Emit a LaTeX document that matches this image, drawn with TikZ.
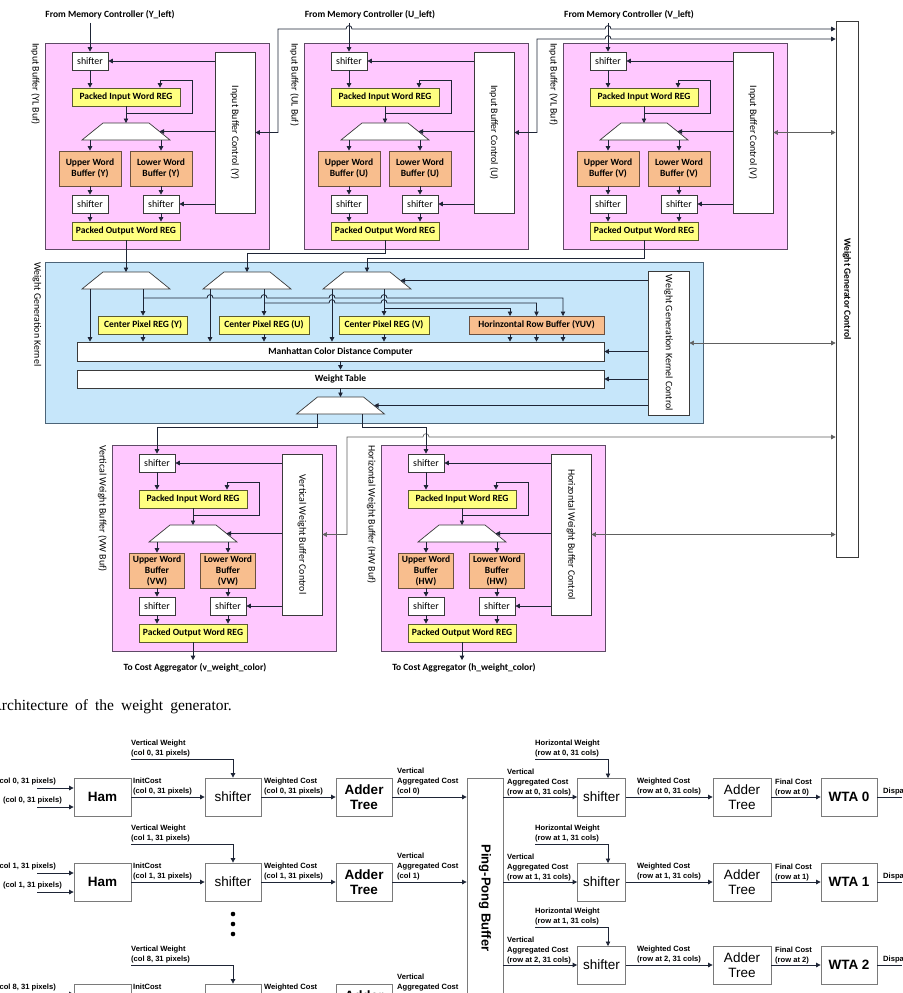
\documentclass[tikz,border=0pt]{standalone}
\usepackage{fontspec}
\setmainfont{Carlito}
\newfontfamily\arialf{Liberation Sans}
\newfontfamily\capserif{Liberation Serif}
\usetikzlibrary{arrows.meta}
\definecolor{pinkf}{HTML}{FFC8FF}
\definecolor{pinkd}{HTML}{5E4A66}
\definecolor{bluef}{HTML}{C6E6FA}
\definecolor{blued}{HTML}{4C6478}
\definecolor{yelf}{HTML}{FFFF80}
\definecolor{yeld}{HTML}{5A5A30}
\definecolor{orf}{HTML}{F8BE8E}
\definecolor{ord}{HTML}{6A5040}
\definecolor{boxd}{HTML}{3A3A3A}
\definecolor{linec}{HTML}{1E2536}
\definecolor{grayl}{HTML}{606060}
\definecolor{bgray}{HTML}{7A7A7A}
\newcommand{\lf}{\fontsize{9.5}{11}\selectfont}
\newcommand{\rf}{\fontsize{9.9}{11}\selectfont}
\newcommand{\smb}{\arialf\bfseries\fontsize{7.6}{10}\selectfont}
\newcommand{\bigbf}{\arialf\bfseries\fontsize{13.5}{15}\selectfont}
\newcommand{\bigrm}{\arialf\fontsize{13.5}{15}\selectfont}
\tikzset{
 ln/.style={draw=linec, line width=0.8pt},
 arr/.style={ln, -{Triangle[length=4.5pt,width=4.5pt]}},
 darr/.style={ln, {Triangle[length=4.5pt,width=4.5pt]}-{Triangle[length=4.5pt,width=4.5pt]}},
 garr/.style={draw=grayl, line width=0.6pt, {Triangle[length=4.5pt,width=4.5pt]}-{Triangle[length=4.5pt,width=4.5pt]}},
 bx/.style={draw=boxd, line width=0.7pt, inner sep=0pt, align=center, font=\lf},
 pinkbox/.style={bx, draw=pinkd, fill=pinkf, line width=0.9pt},
 shf/.style={bx, fill=white, minimum width=36, minimum height=18, font=\rf},
 ylw/.style={bx, draw=yeld, fill=yelf, font=\lf\bfseries, minimum width=108, minimum height=18},
 org/.style={bx, draw=ord, fill=orf, font=\lf\bfseries, minimum height=35},
 ctl/.style={bx, fill=white, minimum width=40},
 muxsh/.style={draw=boxd, line width=0.7pt, fill=white},
 sidel/.style={rotate=-90, font=\rf, inner sep=0pt},
 bb/.style={draw=bgray, line width=0.8pt, inner sep=0pt, minimum height=38, align=center, fill=white},
 slb/.style={font=\smb, inner sep=0pt, align=left},
}
\newcommand{\muxs}[3]{%
 \draw[muxsh] ({#2-23},#3) -- ({#2+23},#3) -- ({#2+44},{#3+17}) -- ({#2-44},{#3+17}) -- cycle;
 \coordinate (#1t) at (#2,#3);
 \coordinate (#1r) at ({#2+33.5},{#3+8.5});
 \coordinate (#1b) at (#2,{#3+17});
}
\newcommand{\hp}[2]{-- ({#1-3},#2) .. controls ({#1-3},{#2-4.5}) and ({#1+3},{#2-4.5}) .. ({#1+3},#2) }
\newcommand{\bufblk}[8]{%
\begin{scope}[shift={(#2,#3)}]
 \node[pinkbox, minimum width=224, minimum height=206] (#1pk) at (112,103) {};
 \node[sidel, anchor=west] (#1lab) at (-9.5,0) {#7};
 \node[shf] (#1si) at (45,18) {shifter};
 \node[ylw] (#1ri) at (81,54) {Packed Input Word REG};
 \muxs{#1m}{81}{80}
 \node[org, minimum width=#8] (#1ub) at (45,125.5) {#4};
 \node[org, minimum width=#8] (#1lb) at (116,125.5) {#5};
 \node[shf] (#1sl) at (45,161) {shifter};
 \node[shf] (#1sr) at (116,161) {shifter};
 \node[ylw] (#1ro) at (81,188) {Packed Output Word REG};
 \node[ctl, minimum height=161] (#1ct) at (190,89.5) {};
 \node[rotate=-90, font=\rf] at (#1ct) {#6};
 \coordinate (#1lp) at (81,70);
 \coordinate (#1lq) at (147,37);
 \coordinate (#1lr) at (115,37);
 \draw[arr] (#1si.south) -- (#1si.south |- #1ri.north);
 \draw[arr] (#1ri.south) -- (#1mt);
 \draw[arr] (#1lp) -| (#1lq) -- (#1lr) -- (#1lr |- #1ri.north);
 \draw[arr] (#1ub.north |- #1mb) -- (#1ub.north);
 \draw[arr] (#1lb.north |- #1mb) -- (#1lb.north);
 \draw[arr] (#1ub.south) -- (#1sl.north);
 \draw[arr] (#1lb.south) -- (#1sr.north);
 \draw[arr] (#1sl.south) -- (#1sl.south |- #1ro.north);
 \draw[arr] (#1sr.south) -- (#1sr.south |- #1ro.north);
 \draw[arr] (#1ct.west |- #1si) -- (#1si.east);
 \draw[arr] (#1ct.west |- #1mr) -- (#1mr);
 \draw[arr] (#1ct.west |- #1sr) -- (#1sr.east);
\end{scope}}
\begin{document}
\begin{tikzpicture}[x=1pt,y=-1pt]
\useasboundingbox (0,0) rectangle (902,993);
\clip (0,0) rectangle (902,993);
\fill[white] (0,0) rectangle (902,993);
% ---------------- top figure ----------------
\node[font=\lf\bfseries] (fmY) at (110,15) {From Memory Controller (Y\_left)};
\node[font=\lf\bfseries] (fmU) at (370,15) {From Memory Controller (U\_left)};
\node[font=\lf\bfseries] (fmV) at (629,15) {From Memory Controller (V\_left)};
\bufblk{Y}{45}{43}{Upper Word\\Buffer (Y)}{Lower Word\\Buffer (Y)}{Input Buffer Control (Y)}{Input Buffer (YL Buf)}{62}
\bufblk{U}{304}{43}{Upper Word\\Buffer (U)}{Lower Word\\Buffer (U)}{Input Buffer Control (U)}{Input Buffer (UL Buf)}{62}
\bufblk{V}{563}{43}{Upper Word\\Buffer (V)}{Lower Word\\Buffer (V)}{Input Buffer Control (V)}{Input Buffer (VL Buf)}{62}
\bufblk{VW}{112}{445}{Upper Word\\Buffer\\(VW)}{Lower Word\\Buffer\\(VW)}{Vertical Weight Buffer Control}{Vertical Weight Buffer (VW Buf)}{55}
\bufblk{HW}{381}{445}{Upper Word\\Buffer\\(HW)}{Lower Word\\Buffer\\(HW)}{Horizontal Weight Buffer Control}{Horizontal Weight Buffer (HW Buf)}{55}
% weight generator control
\node[ctl, minimum width=22, minimum height=536] (wgc) at (847,289) {};
\node[rotate=-90, font=\lf\bfseries] at (wgc) {Weight Generator Control};
% kernel
\node[bx, draw=blued, fill=bluef, line width=0.9pt, minimum width=658, minimum height=161] (kern) at (374,342.5) {};
\node[sidel, anchor=west] (kernlab) at (37,262) {Weight Generation Kernel};
\muxs{k1}{126}{272}
\muxs{k2}{247}{272}
\muxs{k3}{367}{272}
\node[ylw, minimum width=89] (cpY) at (143,325) {Center Pixel REG (Y)};
\node[ylw, minimum width=90] (cpU) at (264,325) {Center Pixel REG (U)};
\node[ylw, minimum width=90] (cpV) at (384,325) {Center Pixel REG (V)};
\node[org, minimum width=135, minimum height=18] (rb) at (536.5,325) {Horinzontal Row Buffer (YUV)};
\node[bx, fill=white, font=\lf\bfseries, minimum width=527, minimum height=19] (man) at (340.5,351.5) {Manhattan Color Distance Computer};
\node[bx, fill=white, font=\lf\bfseries, minimum width=527, minimum height=18] (wt) at (340.5,379) {Weight Table};
\muxs{k4}{340.5}{397}
\node[ctl, minimum width=41, minimum height=144] (kct) at (668.5,343) {};
\node[rotate=-90, font=\rf] at (kct) {Weight Generation Kernel Control};
\coordinate (k1L) at (90,289);
\coordinate (k2L) at (210,289);
\coordinate (k3L) at (332,289);
\draw[arr] (k1L) -- (k1L |- man.north);
\draw[arr] (k2L) -- (k2L |- man.north);
\draw[arr] (k3L) -- (k3L |- man.north);
\draw[arr] (cpY.north |- k1b) -- (cpY.north);
\draw[arr] (cpU.north |- k2b) -- (cpU.north);
\draw[arr] (cpV.north |- k3b) -- (cpV.north);
\draw[arr] (cpY.south) -- (cpY.south |- man.north);
\draw[arr] (cpU.south) -- (cpU.south |- man.north);
\draw[arr] (cpV.south) -- (cpV.south |- man.north);
\coordinate (rbA) at (510,316);
\coordinate (rbB) at (536.5,316);
\coordinate (rbC) at (563,316);
\draw[arr] (143,298) \hp{210}{298} \hp{264}{298} \hp{332}{298} \hp{384}{298} -| (rbC);
\draw[arr] (264,303) \hp{332}{303} \hp{384}{303} -| (rbB);
\draw[arr] (384,308) -| (rbA);
\draw[arr] (rbA |- rb.south) -- (rbA |- man.north);
\draw[arr] (rbB |- rb.south) -- (rbB |- man.north);
\draw[arr] (rbC |- rb.south) -- (rbC |- man.north);
\draw[arr] (man.south) -- (wt.north);
\draw[arr] (wt.south) -- (k4t);
\draw[arr] (kct.west |- k3r) -- (k3r);
\draw[arr] (kct.west |- man.east) -- (man.east);
\draw[arr] (kct.west |- wt.east) -- (wt.east);
\draw[arr] (kct.west |- k4r) -- (k4r);
\draw[garr] (kct.east) -- (kct.east -| wgc.west);
% inputs from memory
\draw[arr] (Ysi.north |- fmY.south) -- (Ysi.north);
\draw[arr] (Usi.north |- fmU.south) -- (Usi.north);
\draw[arr] (Vsi.north |- fmV.south) -- (Vsi.north);
% outputs of input buffers
\coordinate (uy) at (0,253);
\coordinate (vy) at (0,258);
\draw[arr] (Yro.south) -- (k1t);
\draw[arr] (Uro.south) -- (Uro.south |- uy) -| (k2t);
\draw[arr] (Vro.south) -- (Vro.south |- vy) -| (k3t);
% control links
\coordinate (yl) at (278,29);
\coordinate (ul) at (537,39);
\draw[darr] (Yct.east) -| (yl) \hp{349}{29} \hp{608}{29} -- (yl -| wgc.west);
\draw[darr] (Uct.east) -| (ul) \hp{608}{39} -- (ul -| wgc.west);
\draw[garr] (Vct.east) -- (Vct.east -| wgc.west);
\coordinate (vwl) at (347,437);
\draw[garr] (VWct.east) -| (vwl) \hp{426}{437} -- (vwl -| wgc.west);
\draw[garr] (HWct.east) -- (HWct.east -| wgc.west);
% kernel to weight buffers
\coordinate (k4L) at (317,414);
\coordinate (k4R) at (362,414);
\coordinate (jy) at (0,427);
\draw[arr] (k4L) -- (k4L |- jy) -| (VWsi.north);
\draw[arr] (k4R) -- (k4R |- jy) -| (HWsi.north);
% outputs
\node[font=\lf\bfseries] (tcv) at (195,668) {To Cost Aggregator (v\_weight\_color)};
\node[font=\lf\bfseries] (tch) at (464,668) {To Cost Aggregator (h\_weight\_color)};
\draw[arr] (VWro.south) -- (VWro.south |- tcv.north);
\draw[arr] (HWro.south) -- (HWro.south |- tch.north);
% caption
\node[anchor=base east, font=\capserif\fontsize{15.5}{18}\selectfont, inner sep=0pt] (cap) at (232,710) {\spaceskip=7pt Architecture of the weight generator.};
% ---------------- bottom figure ----------------
\foreach \r/\T in {0/778,1/863,8/984}{
 \node[bb, font=\bigbf, minimum width=57] (ham\r) at (102.5,{\T+19}) {Ham};
 \node[bb, font=\bigrm, minimum width=56] (lsh\r) at (233,{\T+19}) {shifter};
 \node[bb, font=\bigbf, minimum width=56] (add\r) at (364,{\T+19}) {Adder\\Tree};
 \coordinate (ia\r) at (37,{\T+10});
 \coordinate (ib\r) at (37,{\T+29});
 \draw[arr] (ia\r) -- (ia\r -| ham\r.west);
 \draw[arr] (ib\r) -- (ib\r -| ham\r.west);
 \node[slb, anchor=east] at (56,{\T+4}) {(col \r, 31 pixels)};
 \node[slb, anchor=east] at (62,{\T+23}) {(col \r, 31 pixels)};
 \node[slb, anchor=north west] at (131,{\T-38}) {Vertical Weight\\(col \r, 31 pixels)};
 \coordinate (vw\r) at (131,{\T-19});
 \draw[arr] (vw\r) -| (lsh\r.north);
 \draw[arr] (ham\r.east) -- (lsh\r.west);
 \draw[arr] (lsh\r.east) -- (add\r.west);
 \node[slb, anchor=south west] at (133,{\T+17.5}) {InitCost\\(col \r, 31 pixels)};
 \node[slb, anchor=south west] at (264,{\T+17.5}) {Weighted Cost\\(col \r, 31 pixels)};
 \node[slb, anchor=south west] at (397,{\T+17.5}) {Vertical\\Aggregated Cost\\(col \r)};
}
\node[bb, minimum width=36, minimum height=240] (pp) at (485,898) {};
\node[rotate=-90, font=\arialf\bfseries\fontsize{13}{15}\selectfont] at (485,898) {Ping-Pong Buffer};
\foreach \r in {0,1,8}{
 \draw[arr] (add\r.east) -- (add\r.east -| pp.west);
}
\foreach \k/\T/\h in {0/778/0,1/863/1,2/946/1}{
 \node[bb, font=\bigrm, minimum width=48] (rsh\k) at (601.5,{\T+19}) {shifter};
 \node[bb, font=\bigrm, minimum width=58] (radd\k) at (742,{\T+19}) {Adder\\Tree};
 \node[bb, font=\bigbf, minimum width=56] (wta\k) at (849,{\T+19}) {WTA \k};
 \draw[arr] (pp.east |- rsh\k.west) -- (rsh\k.west);
 \coordinate (hw\k) at (535,{\T-19});
 \coordinate (hs\k) at (608,{\T});
 \draw[arr] (hw\k) -| (hs\k);
 \draw[arr] (rsh\k.east) -- (radd\k.west);
 \draw[arr] (radd\k.east) -- (wta\k.west);
 \coordinate (de\k) at (902,{\T+19});
 \draw[ln] (wta\k.east) -- (de\k);
 \node[slb, anchor=north west] at (535,{\T-38}) {Horizontal Weight\\(row at \h, 31 cols)};
 \node[slb, anchor=south west] at (507,{\T+18.5}) {Vertical\\Aggregated Cost\\(row at \k, 31 cols)};
 \node[slb, anchor=south west] at (637,{\T+17.5}) {Weighted Cost\\(row at \k, 31 cols)};
 \node[slb, anchor=south west] at (775,{\T+18}) {Final Cost\\(row at \k)};
 \node[slb, anchor=south west] at (883,{\T+17.5}) {Disparity};
}
\foreach \yy in {914,924,934}{
 \fill[black] (233,\yy) circle[radius=2.3];
}
\end{tikzpicture}
\end{document}
